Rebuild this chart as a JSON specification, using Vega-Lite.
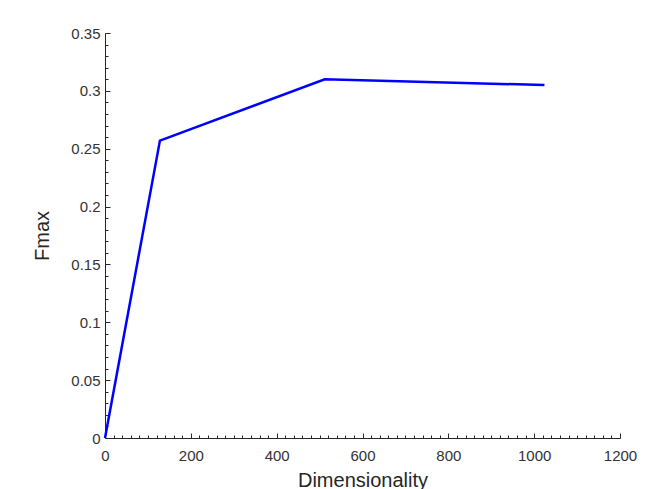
{
  "$schema": "https://vega.github.io/schema/vega-lite/v6.json",
  "width": 515,
  "height": 405,
  "autosize": {"type": "none"},
  "padding": {"left": 105, "top": 33, "right": 37, "bottom": 51},
  "background": "white",
  "config": {
    "view": {"stroke": null},
    "font": "Liberation Sans",
    "axis": {
      "grid": false,
      "labelFlush": false,
      "domainColor": "#262626",
      "tickColor": "#262626",
      "labelColor": "#333333",
      "labelFont": "Liberation Sans",
      "labelFontSize": 15,
      "titleFont": "Liberation Sans",
      "titleFontSize": 20,
      "titleFontWeight": "normal",
      "titleColor": "#262626"
    }
  },
  "data": {
    "values": [
      {"dim": 0, "fmax": 0},
      {"dim": 128, "fmax": 0.257},
      {"dim": 512, "fmax": 0.31},
      {"dim": 1024, "fmax": 0.305}
    ]
  },
  "layer": [
    {
      "mark": {"type": "line", "color": "#0000ff", "strokeWidth": 2.5},
      "encoding": {
        "x": {
          "field": "dim", "type": "quantitative",
          "scale": {"domain": [0, 1200], "nice": false},
          "axis": {"title": "Dimensionality", "values": [0, 200, 400, 600, 800, 1000, 1200], "format": "d", "tickSize": -5, "labelPadding": 15, "titlePadding": 7}
        },
        "y": {
          "field": "fmax", "type": "quantitative",
          "scale": {"domain": [0, 0.35], "nice": false},
          "axis": {"title": "Fmax", "values": [0, 0.05, 0.1, 0.15, 0.2, 0.25, 0.3, 0.35], "format": "~g", "tickSize": -5, "labelPadding": 10, "titlePadding": 18}
        }
      }
    },
    {
      "mark": {"type": "point", "opacity": 0, "size": 0},
      "encoding": {
        "x": {
          "field": "dim", "type": "quantitative",
          "axis": {"orient": "bottom", "title": null, "labels": false, "domain": false, "values": [20,40,60,80,100,120,140,160,180,220,240,260,280,300,320,340,360,380,420,440,460,480,500,520,540,560,580,620,640,660,680,700,720,740,760,780,820,840,860,880,900,920,940,960,980,1020,1040,1060,1080,1100,1120,1140,1160,1180], "tickSize": -3}
        },
        "y": {
          "field": "fmax", "type": "quantitative",
          "axis": {"orient": "left", "title": null, "labels": false, "domain": false, "values": [0.01,0.02,0.03,0.04,0.06,0.07,0.08,0.09,0.11,0.12,0.13,0.14,0.16,0.17,0.18,0.19,0.21,0.22,0.23,0.24,0.26,0.27,0.28,0.29,0.31,0.32,0.33,0.34], "tickSize": -3}
        }
      }
    }
  ],
  "resolve": {"axis": {"x": "independent", "y": "independent"}}
}
